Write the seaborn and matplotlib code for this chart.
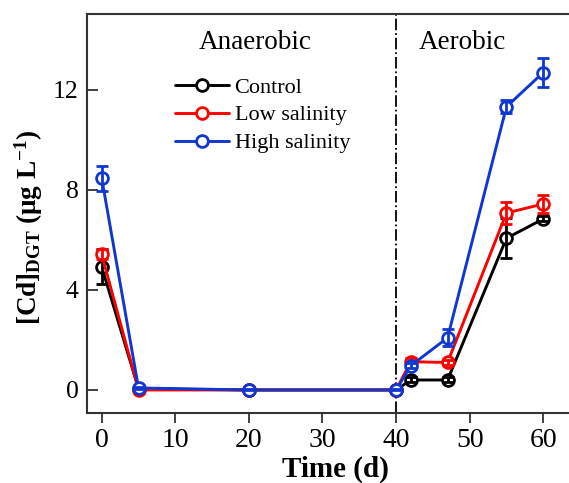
import numpy as np
import pandas as pd
import seaborn as sns
import matplotlib.pyplot as plt

# Sampling days and DGT-Cd values (mean, sd)
time_d = [0, 5, 20, 40, 42, 47, 55, 60]
treatments = ["Control", "Low salinity", "High salinity"]
control = [4.92, 0.05, 0.0, 0.0, 0.4, 0.4, 6.07, 6.84]
control_sd = [0.7, 0.05, 0.02, 0.02, 0.1, 0.1, 0.8, 0.1]
low_sal = [5.42, 0.0, 0.0, 0.0, 1.13, 1.1, 7.08, 7.44]
low_sal_sd = [0.2, 0.05, 0.02, 0.02, 0.15, 0.1, 0.45, 0.36]
high_sal = [8.47, 0.08, 0.0, 0.0, 0.97, 2.09, 11.33, 12.7]
high_sal_sd = [0.5, 0.05, 0.02, 0.02, 0.1, 0.35, 0.27, 0.57]

colors = {"Control": "black", "Low salinity": "#ff0000", "High salinity": "#1038d0"}

df = pd.DataFrame({
    "Time": time_d * 3,
    "Cd": control + low_sal + high_sal,
    "sd": control_sd + low_sal_sd + high_sal_sd,
    "Treatment": np.repeat(treatments, len(time_d)),
})

sns.set_style("ticks")
plt.rcParams["font.family"] = ["Liberation Serif", "DejaVu Serif"]
plt.rcParams["mathtext.fontset"] = "custom"
plt.rcParams["mathtext.rm"] = "Liberation Serif"
plt.rcParams["mathtext.bf"] = "Liberation Serif:bold"
plt.rcParams["mathtext.it"] = "Liberation Serif:italic"
plt.rcParams["text.color"] = "black"
plt.rcParams["axes.labelcolor"] = "black"
plt.rcParams["xtick.labelcolor"] = "black"
plt.rcParams["ytick.labelcolor"] = "black"

fig = plt.figure(figsize=(5.69, 4.83), dpi=100)
ax = fig.add_axes([0.1529, 0.145, 0.8471, 0.826])

for i, t in enumerate(treatments):
    sub = df[df["Treatment"] == t]
    sns.lineplot(data=sub, x="Time", y="Cd", ax=ax, color=colors[t], lw=2.1,
                 marker="o", markersize=8.5, markerfacecolor="white",
                 markeredgecolor=colors[t], markeredgewidth=2,
                 label=t, zorder=3 + 2 * i)
    ax.errorbar(sub["Time"], sub["Cd"], yerr=sub["sd"], fmt="none",
                ecolor=colors[t], elinewidth=2, capsize=4, capthick=2,
                zorder=4 + 2 * i)

ax.axvline(40, color="black", ls="-.", lw=1.3, zorder=2)
ax.text(20.8, 13.9, "Anaerobic", ha="center", va="center", fontsize=19.5)
ax.text(49.0, 13.9, "Aerobic", ha="center", va="center", fontsize=19.5)

ax.set_xlim(-2, 63.5)
ax.set_ylim(-0.92, 15.04)
ax.set_xticks(range(0, 61, 10))
ax.set_yticks([0, 4, 8, 12])
ax.tick_params(width=1.3, color="#333333")
ax.tick_params(axis="x", direction="out", length=7, pad=4, labelsize=20)
ax.tick_params(axis="y", direction="in", length=8, pad=6, labelsize=18.5)
ax.spines["right"].set_visible(False)
for s in ax.spines.values():
    s.set_color("#333333")
    s.set_linewidth(1.5)

ax.set_xlabel("Time (d)", fontsize=21, fontweight="bold")
ax.xaxis.set_label_coords(0.516, -0.108)
ax.set_ylabel(r"$\mathbf{[Cd]_{DGT}}$ $\mathbf{(\mu g\ L^{-1})}$", fontsize=19.5)
ax.yaxis.set_label_coords(-0.087, 0.465)

ax.legend(loc="upper left", bbox_to_anchor=(0.183, 0.842), frameon=False,
          fontsize=16, handlelength=2.4, handletextpad=0.27, labelspacing=0.33,
          borderaxespad=0, borderpad=0)

fig.savefig("out.png", dpi=100)
